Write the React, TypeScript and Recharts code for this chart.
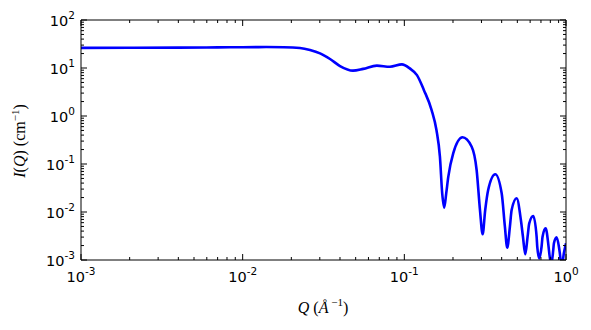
import React from 'react';
import { LineChart, Line, XAxis, YAxis } from 'recharts';

const qValues = [
  0.001, 0.002, 0.004, 0.007, 0.01, 0.014, 0.018, 0.0226, 0.0261, 0.0301,
  0.0347, 0.04, 0.0481, 0.0557, 0.0676, 0.0815, 0.0966, 0.108, 0.1197, 0.132,
  0.1475, 0.158, 0.166, 0.1715, 0.1765, 0.1816, 0.187, 0.2006, 0.229, 0.261,
  0.28, 0.2937, 0.305, 0.3164, 0.33, 0.365, 0.4, 0.4188, 0.433, 0.4498,
  0.461, 0.495, 0.526, 0.5416, 0.56, 0.5787, 0.5925, 0.627, 0.658, 0.664,
  0.683, 0.706, 0.716, 0.748, 0.776, 0.784, 0.81, 0.834, 0.842, 0.875,
  0.904, 0.916, 0.94, 0.97, 1.0,
];
const intensity = [
  26.3, 26.4, 26.6, 26.9, 27.1, 27.3, 27.1, 26.1, 23.7, 20.2,
  15.4, 11.0, 8.8, 9.6, 11.2, 10.6, 11.9, 9.8, 7.1, 3.5,
  1.33, 0.51, 0.142, 0.0245, 0.0123, 0.0245, 0.054, 0.167, 0.36, 0.229,
  0.075, 0.011, 0.00343, 0.011, 0.0288, 0.061, 0.0245, 0.00494, 0.0018, 0.00494,
  0.011, 0.0193, 0.0068, 0.00306, 0.00132, 0.00306, 0.0058, 0.00826, 0.00306, 0.00189,
  0.00108, 0.00189, 0.00306, 0.00457, 0.00223, 0.00162, 0.0008, 0.00162, 0.00223, 0.00297,
  0.00189, 0.00138, 0.0007, 0.00138, 0.00224,
];

const xDecades = [0.001, 0.01, 0.1, 1];
const yDecades = [0.001, 0.01, 0.1, 1, 10, 100];
const minorMultipliers = [2, 3, 4, 5, 6, 7, 8, 9];

const buildTicks = (decades: number[]) => {
  const out: number[] = [];
  decades.forEach((d, i) => {
    out.push(d);
    if (i < decades.length - 1) minorMultipliers.forEach((m) => out.push(d * m));
  });
  return out;
};
const xTicks = buildTicks(xDecades);
const yTicks = buildTicks(yDecades);

const data = qValues.map((q, i) => ({ q, I: intensity[i] }));

const exponentOf = (v: number) => {
  const l = Math.log10(v);
  const r = Math.round(l);
  return Math.abs(l - r) < 1e-6 ? r : null;
};

const TICK_FONT = 'DejaVu Sans';
const MAJOR = 6;
const MINOR = 3;

const BottomTick = (props: any) => {
  const { x, y, payload } = props;
  const e = exponentOf(payload.value);
  const len = e !== null ? MAJOR : MINOR;
  return (
    <g>
      <line x1={x} y1={y} x2={x} y2={y - len} stroke="#000" strokeWidth={1} />
      {e !== null && (
        <text x={x} y={y + 22} textAnchor="middle" fontFamily={TICK_FONT} fontSize={14.5} fill="#000">
          <tspan>10</tspan>
          <tspan dy={-7} fontSize={10.5}>{String(e)}</tspan>
        </text>
      )}
    </g>
  );
};

const TopTick = (props: any) => {
  const { x, y, payload } = props;
  const e = exponentOf(payload.value);
  const len = e !== null ? MAJOR : MINOR;
  return <line x1={x} y1={y} x2={x} y2={y + len} stroke="#000" strokeWidth={1} />;
};

const LeftTick = (props: any) => {
  const { x, y, payload } = props;
  const e = exponentOf(payload.value);
  const len = e !== null ? MAJOR : MINOR;
  return (
    <g>
      <line x1={x} y1={y} x2={x + len} y2={y} stroke="#000" strokeWidth={1} />
      {e !== null && (
        <text x={x - 6} y={y + 6} textAnchor="end" fontFamily={TICK_FONT} fontSize={14.5} fill="#000">
          <tspan>10</tspan>
          <tspan dy={-7} fontSize={10.5}>{String(e)}</tspan>
        </text>
      )}
    </g>
  );
};

const RightTick = (props: any) => {
  const { x, y, payload } = props;
  const e = exponentOf(payload.value);
  const len = e !== null ? MAJOR : MINOR;
  return <line x1={x} y1={y} x2={x - len} y2={y} stroke="#000" strokeWidth={1} />;
};

const LABEL_FONT = 'Liberation Serif';

export default function App() {
  return (
    <div style={{ position: 'absolute', left: 0, top: 0, width: 591, height: 330, background: '#fff' }}>
      <LineChart width={591} height={330} data={data} margin={{ top: 0, right: 0, bottom: 0, left: 0 }}>
        <XAxis
          xAxisId="bottom"
          dataKey="q"
          type="number"
          scale="log"
          domain={[0.001, 1]}
          allowDataOverflow
          ticks={xTicks}
          interval={0}
          tickSize={0}
          tickMargin={0}
          tickLine={false}
          tick={<BottomTick />}
          axisLine={{ stroke: '#000', strokeWidth: 1 }}
          height={70}
          orientation="bottom"
        />
        <XAxis
          xAxisId="top"
          dataKey="q"
          type="number"
          scale="log"
          domain={[0.001, 1]}
          allowDataOverflow
          ticks={xTicks}
          interval={0}
          tickSize={0}
          tickMargin={0}
          tickLine={false}
          tick={<TopTick />}
          axisLine={{ stroke: '#000', strokeWidth: 1 }}
          height={20}
          orientation="top"
        />
        <YAxis
          yAxisId="left"
          type="number"
          scale="log"
          domain={[0.001, 100]}
          allowDataOverflow
          ticks={yTicks}
          interval={0}
          tickSize={0}
          tickMargin={0}
          tickLine={false}
          tick={<LeftTick />}
          axisLine={{ stroke: '#000', strokeWidth: 1 }}
          width={81}
          orientation="left"
        />
        <YAxis
          yAxisId="right"
          type="number"
          scale="log"
          domain={[0.001, 100]}
          allowDataOverflow
          ticks={yTicks}
          interval={0}
          tickSize={0}
          tickMargin={0}
          tickLine={false}
          tick={<RightTick />}
          axisLine={{ stroke: '#000', strokeWidth: 1 }}
          width={25}
          orientation="right"
        />
        <Line
          xAxisId="top"
          yAxisId="right"
          dataKey="I"
          stroke="none"
          dot={false}
          activeDot={false}
          isAnimationActive={false}
        />
        <Line
          xAxisId="bottom"
          yAxisId="left"
          dataKey="I"
          type="monotone"
          stroke="#0000ff"
          strokeWidth={2.6}
          dot={false}
          activeDot={false}
          isAnimationActive={false}
        />
      </LineChart>
      <svg
        width={591}
        height={330}
        style={{ position: 'absolute', left: 0, top: 0, pointerEvents: 'none' }}
      >
        <text
          transform="translate(25,141) rotate(-90)"
          textAnchor="middle"
          fontFamily={LABEL_FONT}
          fontSize={16}
          fill="#000"
        >
          <tspan fontStyle="italic">I</tspan>
          <tspan>(</tspan>
          <tspan fontStyle="italic">Q</tspan>
          <tspan>) (cm</tspan>
          <tspan dy={-6} fontSize={11}>−1</tspan>
          <tspan dy={6}>)</tspan>
        </text>
        <text x={323} y={313} textAnchor="middle" fontFamily={LABEL_FONT} fontSize={16} fill="#000">
          <tspan fontStyle="italic">Q</tspan>
          <tspan> (</tspan>
          <tspan fontStyle="italic">Å</tspan>
          <tspan dy={-7} fontSize={11}> −1</tspan>
          <tspan dy={7}>)</tspan>
        </text>
      </svg>
    </div>
  );
}
